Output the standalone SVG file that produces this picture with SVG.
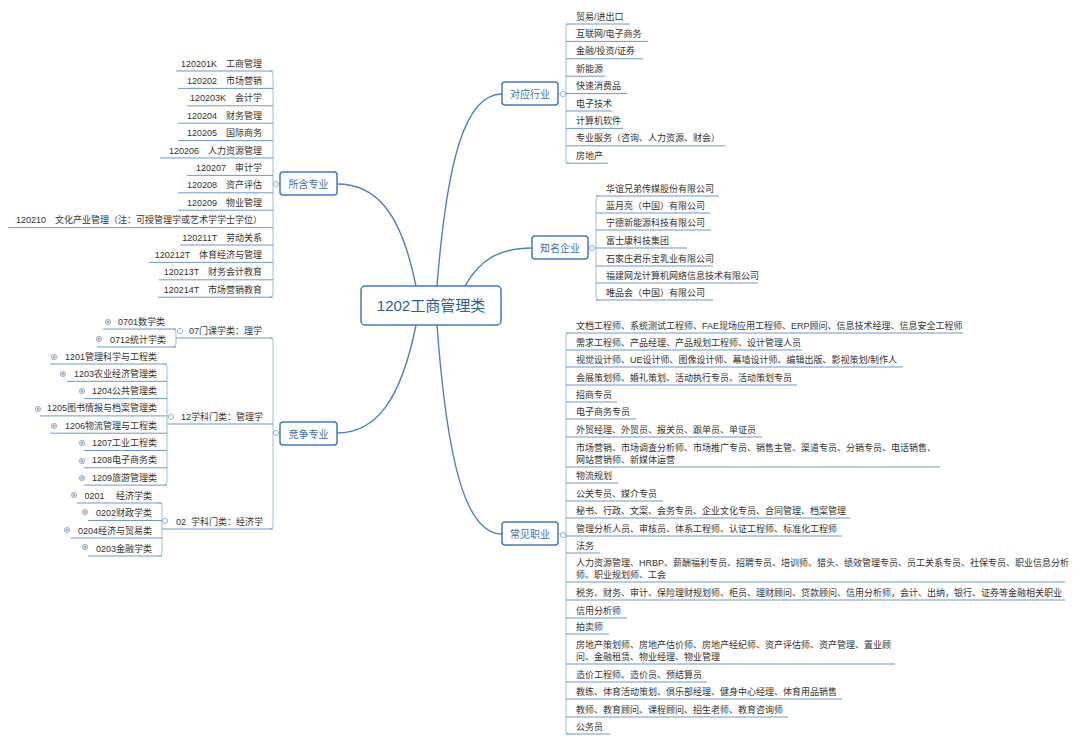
<svg xmlns="http://www.w3.org/2000/svg" width="1080" height="742" viewBox="0 0 1080 742">
<style>
text{font-family:"Liberation Sans","Noto Sans CJK SC",sans-serif;white-space:pre}
.it{font-size:9px;fill:#333}
.ie{font-size:9px;fill:#333;text-anchor:end}
.ul{stroke:#6f97cc;stroke-width:1;fill:none}
.br{stroke:#9fbbe0;stroke-width:1;fill:none}
.cn{stroke:#4f80c4;stroke-width:1.4;fill:none}
.nd rect{fill:#fff;stroke:#4a78bd;stroke-width:1.5}
.nt{font-size:10px;fill:#3f6fb3;text-anchor:middle}
.tg{fill:#fff;stroke:#8fa9cf;stroke-width:0.9}
.ex circle{fill:#eef2f8;stroke:#8c9bb3;stroke-width:0.8}
.ex path{stroke:#6f7f99;stroke-width:0.7}
</style>
<rect width="1080" height="742" fill="#fff"/>
<g id="connectors">
<path class="cn" d="M416,286 C401,212 376,184 337,184"/>
<path class="cn" d="M416,325 C401,400 376,433 337,433"/>
<path class="cn" d="M437,286 C447,160 465,94 502,94"/>
<path class="cn" d="M465,286 C480,259 500,248 532,248"/>
<path class="cn" d="M437,325 C447,460 465,534 502,534"/>
<!-- node stubs -->
<path class="br" d="M558,94 H566 M588,248 H596 M558,534 H566 M273,184 H280 M273,433 H280"/>
<!-- 对应行业 bracket -->
<path class="br" d="M569,24 Q566,24 566,27 V160 Q566,163 569,163"/>
<path class="ul" d="M566,24 H630 M566,41.4 H648 M566,58.8 H643 M566,76.2 H605 M566,93.6 H627 M566,111 H612 M566,128.4 H623 M566,145.8 H725 M566,163.2 H608"/>
<!-- 知名企业 bracket -->
<path class="br" d="M599,196 Q596,196 596,199 V297 Q596,300 599,300"/>
<path class="ul" d="M596,196 H719 M596,213 H710 M596,230 H711 M596,248 H687 M596,266 H713 M596,283 H758 M596,300 H713"/>
<!-- 常见职业 bracket -->
<path class="br" d="M569,333 Q566,333 566,336 V731 Q566,734 569,734"/>
<path class="ul" d="M566,333 H963 M566,350 H802 M566,367 H903 M566,385 H797 M566,402 H617 M566,419 H636 M566,437 H762 M566,467 H940 M566,483 H618 M566,501 H663 M566,518 H850 M566,536 H842 M566,553 H600 M566,582 H1065 M566,600 H1065 M566,618 H627 M566,634 H609 M566,664 H895 M566,682 H707 M566,699 H842 M566,717 H788 M566,734 H610"/>
<!-- 所含专业 bracket -->
<path class="br" d="M270,71 Q273,71 273,74 V294 Q273,297 270,297"/>
<path class="ul" d="M176,71 H273 M178,88.4 H273 M187,105.8 H273 M178,123.2 H273 M178,140.6 H273 M160,158 H273 M187,175.4 H273 M178,192.8 H273 M178,210.2 H273 M8,227.6 H273 M180,245 H273 M149,262.4 H273 M159,279.8 H273 M158,297.2 H273"/>
<!-- 竞争专业 bracket -->
<path class="br" d="M270,338 Q273,338 273,341 V526 Q273,529 270,529"/>
<path class="ul" d="M176,338 H273 M167,424 H273 M162,529 H273"/>
<path class="br" d="M173,329 Q176,329 176,332 V344 Q176,347 173,347"/>
<path class="ul" d="M103,329 H176 M97,347 H176"/>
<path class="br" d="M164,364 Q167,364 167,367 V482 Q167,485 164,485"/>
<path class="ul" d="M50,364 H167 M67,381.3 H167 M84,398.6 H167 M40,415.9 H167 M50,433.2 H167 M84,450.5 H167 M84,467.8 H167 M84,485.1 H167"/>
<path class="br" d="M159,503 Q162,503 162,506 V553 Q162,556 159,556"/>
<path class="ul" d="M77,503 H162 M88,520.5 H162 M71,538 H162 M88,556 H162"/>
<!-- toggles -->
<circle class="tg" cx="563" cy="94" r="2.6"/>
<circle class="tg" cx="592" cy="248" r="2.6"/>
<circle class="tg" cx="563" cy="535" r="2.6"/>
<circle class="tg" cx="276" cy="184" r="2.6"/>
<circle class="tg" cx="276" cy="433" r="2.6"/>
<circle class="tg" cx="180" cy="331" r="2.6"/>
<circle class="tg" cx="171" cy="417" r="2.6"/>
<circle class="tg" cx="165" cy="521" r="2.6"/>
</g>
<g id="center" class="nd"><rect x="361" y="286" width="140" height="39" rx="4"/><text x="431" y="311" style="font-size:15px;fill:#2f5d9e;text-anchor:middle">1202工商管理类</text></g>
<g id="n-industry" class="nd"><rect x="502" y="82" width="56" height="23" rx="3"/><text class="nt" x="530" y="97.5">对应行业</text></g>
<g id="n-company" class="nd"><rect x="532" y="236" width="56" height="23" rx="3"/><text class="nt" x="560" y="251.5">知名企业</text></g>
<g id="n-career" class="nd"><rect x="502" y="522" width="56" height="23" rx="3"/><text class="nt" x="530" y="537.5">常见职业</text></g>
<g id="n-major" class="nd"><rect x="280" y="172" width="57" height="23" rx="3"/><text class="nt" x="308.5" y="187.5">所含专业</text></g>
<g id="n-compete" class="nd"><rect x="280" y="422" width="57" height="23" rx="3"/><text class="nt" x="308.5" y="437.5">竞争专业</text></g>
<g id="industry-items">
<text class="it" x="576" y="19.5">贸易/进出口</text>
<text class="it" x="576" y="37">互联网/电子商务</text>
<text class="it" x="576" y="54.3">金融/投资/证券</text>
<text class="it" x="576" y="71.7">新能源</text>
<text class="it" x="576" y="89.1">快速消费品</text>
<text class="it" x="576" y="106.5">电子技术</text>
<text class="it" x="576" y="123.9">计算机软件</text>
<text class="it" x="576" y="141.3">专业服务（咨询、人力资源、财会）</text>
<text class="it" x="576" y="158.7">房地产</text>
</g>
<g id="company-items">
<text class="it" x="606" y="191.5">华谊兄弟传媒股份有限公司</text>
<text class="it" x="606" y="208.5">蓝月亮（中国）有限公司</text>
<text class="it" x="606" y="225.5">宁德新能源科技有限公司</text>
<text class="it" x="606" y="243.5">富士康科技集团</text>
<text class="it" x="606" y="261.5">石家庄君乐宝乳业有限公司</text>
<text class="it" x="606" y="278.5">福建网龙计算机网络信息技术有限公司</text>
<text class="it" x="606" y="295.5">唯品会（中国）有限公司</text>
</g>
<g id="career-items">
<text class="it" x="576" y="328.5">文档工程师、系统测试工程师、FAE现场应用工程师、ERP顾问、信息技术经理、信息安全工程师</text>
<text class="it" x="576" y="345.5">需求工程师、产品经理、产品规划工程师、设计管理人员</text>
<text class="it" x="576" y="362.5">视觉设计师、UE设计师、图像设计师、幕墙设计师、编辑出版、影视策划/制作人</text>
<text class="it" x="576" y="380.5">会展策划师、婚礼策划、活动执行专员、活动策划专员</text>
<text class="it" x="576" y="397.5">招商专员</text>
<text class="it" x="576" y="414.5">电子商务专员</text>
<text class="it" x="576" y="432.5">外贸经理、外贸员、报关员、跟单员、单证员</text>
<text class="it" x="576" y="450.5">市场营销、市场调查分析师、市场推广专员、销售主管、渠道专员、分销专员、电话销售、</text>
<text class="it" x="576" y="462.5">网站营销师、新媒体运营</text>
<text class="it" x="576" y="478.5">物流规划</text>
<text class="it" x="576" y="496.5">公关专员、媒介专员</text>
<text class="it" x="576" y="513.5">秘书、行政、文案、会务专员、企业文化专员、合同管理、档案管理</text>
<text class="it" x="576" y="531.5">管理分析人员、审核员、体系工程师、认证工程师、标准化工程师</text>
<text class="it" x="576" y="548.5">法务</text>
<text class="it" x="576" y="565.5">人力资源管理、HRBP、薪酬福利专员、招聘专员、培训师、猎头、绩效管理专员、员工关系专员、社保专员、职业信息分析</text>
<text class="it" x="576" y="577.5">师、职业规划师、工会</text>
<text class="it" x="576" y="595.5">税务、财务、审计、保险理财规划师、柜员、理财顾问、贷款顾问、信用分析师，会计、出纳，银行、证券等金融相关职业</text>
<text class="it" x="576" y="613.5">信用分析师</text>
<text class="it" x="576" y="629.5">拍卖师</text>
<text class="it" x="576" y="647.5">房地产策划师、房地产估价师、房地产经纪师、资产评估师、资产管理、置业顾</text>
<text class="it" x="576" y="659.5">问、金融租赁、物业经理、物业管理</text>
<text class="it" x="576" y="677.5">造价工程师、造价员、预结算员</text>
<text class="it" x="576" y="694.5">教练、体育活动策划、俱乐部经理、健身中心经理、体育用品销售</text>
<text class="it" x="576" y="712.5">教师、教育顾问、课程顾问、招生老师、教育咨询师</text>
<text class="it" x="576" y="729.5">公务员</text>
</g>
<g id="major-items">
<text class="ie" x="262" y="66.5">120201K　工商管理</text>
<text class="ie" x="262" y="83.9">120202　市场营销</text>
<text class="ie" x="262" y="101.3">120203K　会计学</text>
<text class="ie" x="262" y="118.7">120204　财务管理</text>
<text class="ie" x="262" y="136.1">120205　国际商务</text>
<text class="ie" x="262" y="153.5">120206　人力资源管理</text>
<text class="ie" x="262" y="170.9">120207　审计学</text>
<text class="ie" x="262" y="188.3">120208　资产评估</text>
<text class="ie" x="262" y="205.7">120209　物业管理</text>
<text class="ie" x="262" y="223.1">120210　文化产业管理（注：可授管理学或艺术学学士学位）</text>
<text class="ie" x="262" y="240.5">120211T　劳动关系</text>
<text class="ie" x="262" y="257.9">120212T　体育经济与管理</text>
<text class="ie" x="262" y="275.3">120213T　财务会计教育</text>
<text class="ie" x="262" y="292.7">120214T　市场营销教育</text>
</g>
<g id="compete-items">
<text class="it" x="189" y="333.5">07门课学类：理学</text>
<text class="it" x="181" y="419.5">12学科门类：管理学</text>
<text class="it" x="176" y="524.5">02  学科门类：经济学</text>
<text class="ie" x="165" y="324.5">0701数学类</text>
<text class="ie" x="166" y="342.5">0712统计学类</text>
<text class="ie" x="157" y="359.5">1201管理科学与工程类</text>
<text class="ie" x="157" y="376.8">1203农业经济管理类</text>
<text class="ie" x="157" y="394.1">1204公共管理类</text>
<text class="ie" x="157" y="411.4">1205图书情报与档案管理类</text>
<text class="ie" x="157" y="428.7">1206物流管理与工程类</text>
<text class="ie" x="157" y="446">1207工业工程类</text>
<text class="ie" x="157" y="463.3">1208电子商务类</text>
<text class="ie" x="157" y="480.6">1209旅游管理类</text>
<text class="ie" x="152" y="498.5">0201　 经济学类</text>
<text class="ie" x="152" y="516">0202财政学类</text>
<text class="ie" x="152" y="533.5">0204经济与贸易类</text>
<text class="ie" x="152" y="551.5">0203金融学类</text>
</g>
<g id="expanders" class="ex">
<g transform="translate(108,322)"><circle r="2.6"/><path d="M-1.4,0 H1.4 M0,-1.4 V1.4"/></g>
<g transform="translate(99,339)"><circle r="2.6"/><path d="M-1.4,0 H1.4 M0,-1.4 V1.4"/></g>
<g transform="translate(54,357)"><circle r="2.6"/><path d="M-1.4,0 H1.4 M0,-1.4 V1.4"/></g>
<g transform="translate(63,374)"><circle r="2.6"/><path d="M-1.4,0 H1.4 M0,-1.4 V1.4"/></g>
<g transform="translate(82,391)"><circle r="2.6"/><path d="M-1.4,0 H1.4 M0,-1.4 V1.4"/></g>
<g transform="translate(38,409)"><circle r="2.6"/><path d="M-1.4,0 H1.4 M0,-1.4 V1.4"/></g>
<g transform="translate(54,426)"><circle r="2.6"/><path d="M-1.4,0 H1.4 M0,-1.4 V1.4"/></g>
<g transform="translate(82,443)"><circle r="2.6"/><path d="M-1.4,0 H1.4 M0,-1.4 V1.4"/></g>
<g transform="translate(82,461)"><circle r="2.6"/><path d="M-1.4,0 H1.4 M0,-1.4 V1.4"/></g>
<g transform="translate(82,478)"><circle r="2.6"/><path d="M-1.4,0 H1.4 M0,-1.4 V1.4"/></g>
<g transform="translate(74,495)"><circle r="2.6"/><path d="M-1.4,0 H1.4 M0,-1.4 V1.4"/></g>
<g transform="translate(85,512)"><circle r="2.6"/><path d="M-1.4,0 H1.4 M0,-1.4 V1.4"/></g>
<g transform="translate(67,530)"><circle r="2.6"/><path d="M-1.4,0 H1.4 M0,-1.4 V1.4"/></g>
<g transform="translate(85,547)"><circle r="2.6"/><path d="M-1.4,0 H1.4 M0,-1.4 V1.4"/></g>
</g>
</svg>
